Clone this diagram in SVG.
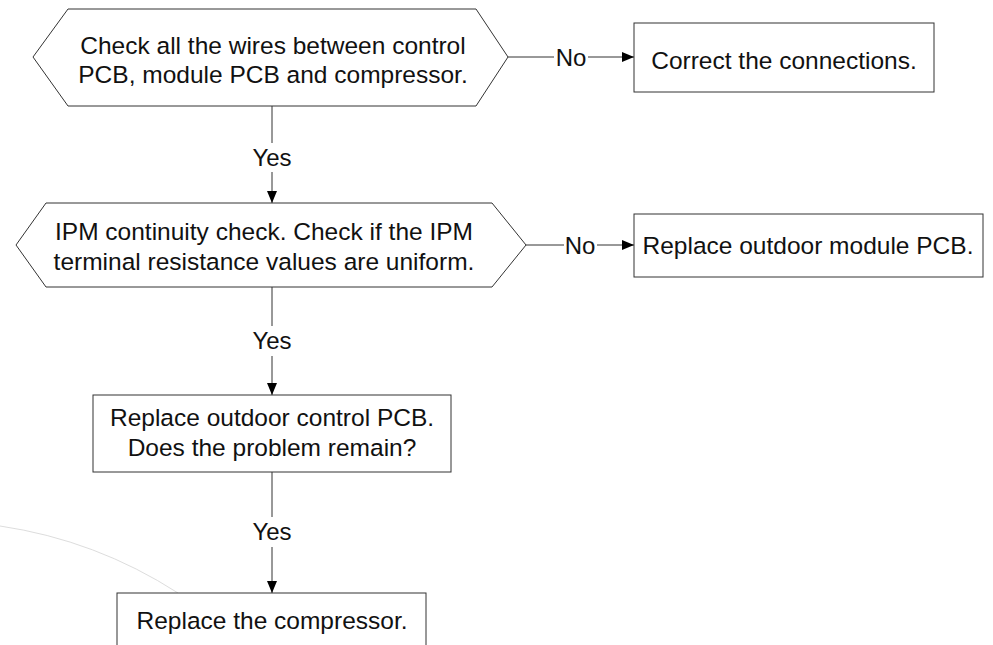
<svg xmlns="http://www.w3.org/2000/svg" width="993" height="645" viewBox="0 0 993 645">
  <style>
    .shape { fill: #ffffff; stroke: #333333; stroke-width: 1; }
    .link { fill: none; stroke: #333333; stroke-width: 1; }
    .label { font-family: "Liberation Sans", Arial, sans-serif; font-size: 24.5px; fill: #111111; text-anchor: middle; }
    .tag { font-family: "Liberation Sans", Arial, sans-serif; font-size: 24px; fill: #111111; text-anchor: middle; }
  </style>
  <defs>
    <marker id="arrow" markerWidth="12" markerHeight="10" refX="12" refY="5" orient="auto" markerUnits="userSpaceOnUse">
      <path d="M0,0 L12,5 L0,10 Z" fill="#000000"/>
    </marker>
  </defs>
  <rect width="993" height="645" fill="#ffffff"/>

  <!-- faint background arc -->
  <path d="M0,526 A450,450 0 0 1 178,593" fill="none" stroke="#dddddd" stroke-width="1"/>

  <!-- connectors -->
  <g id="connectors">
    <line class="link" x1="508" y1="57" x2="554" y2="57"/>
    <line class="link" x1="588" y1="57" x2="634" y2="57" marker-end="url(#arrow)"/>
    <line class="link" x1="272" y1="106" x2="272" y2="143"/>
    <line class="link" x1="272" y1="172" x2="272" y2="203" marker-end="url(#arrow)"/>
    <line class="link" x1="526" y1="245" x2="564" y2="245"/>
    <line class="link" x1="597" y1="245" x2="634" y2="245" marker-end="url(#arrow)"/>
    <line class="link" x1="272" y1="287" x2="272" y2="326"/>
    <line class="link" x1="272" y1="356" x2="272" y2="395" marker-end="url(#arrow)"/>
    <line class="link" x1="272" y1="472" x2="272" y2="517"/>
    <line class="link" x1="272" y1="547" x2="272" y2="593" marker-end="url(#arrow)"/>
    <text class="tag" x="571" y="66">No</text>
    <text class="tag" x="272" y="166">Yes</text>
    <text class="tag" x="580" y="254">No</text>
    <text class="tag" x="272" y="349">Yes</text>
    <text class="tag" x="272" y="540">Yes</text>
  </g>

  <g id="check-wires">
    <polygon class="shape" points="33,57 68,9 476,9 508,57 476,106 68,106"/>
    <text class="label" x="273" y="54">Check all the wires between control</text>
    <text class="label" x="273" y="83">PCB, module PCB and compressor.</text>
  </g>

  <g id="correct-connections">
    <rect class="shape" x="634" y="23" width="300" height="69"/>
    <text class="label" x="784" y="69">Correct the connections.</text>
  </g>

  <g id="ipm-check">
    <polygon class="shape" points="16,245 46,203 492,203 526,245 492,287 46,287"/>
    <text class="label" x="264" y="240">IPM continuity check. Check if the IPM</text>
    <text class="label" x="264" y="270">terminal resistance values are uniform.</text>
  </g>

  <g id="replace-module">
    <rect class="shape" x="634" y="214" width="349" height="63"/>
    <text class="label" x="808" y="254">Replace outdoor module PCB.</text>
  </g>

  <g id="replace-control">
    <rect class="shape" x="93" y="395" width="358" height="77"/>
    <text class="label" x="272" y="426">Replace outdoor control PCB.</text>
    <text class="label" x="272" y="456">Does the problem remain?</text>
  </g>

  <g id="replace-compressor">
    <rect class="shape" x="117" y="593" width="309" height="70"/>
    <text class="label" x="272" y="629">Replace the compressor.</text>
  </g>
</svg>
